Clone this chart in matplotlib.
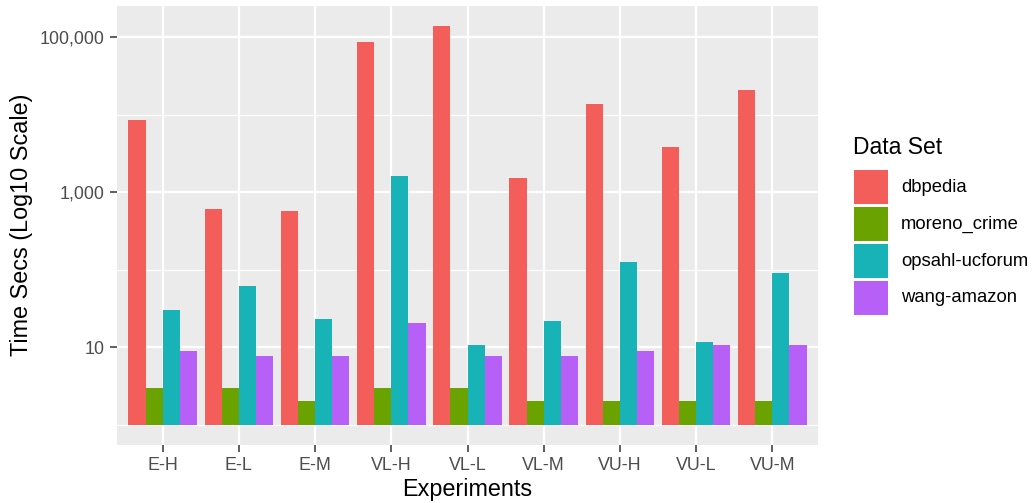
import numpy as np
import matplotlib
matplotlib.use("Agg")
import matplotlib.pyplot as plt
from matplotlib.patches import Rectangle
from matplotlib.ticker import FixedLocator, NullFormatter

plt.rcParams['font.family'] = ['Liberation Sans', 'DejaVu Sans']

# values (seconds)
experiments = ["E-H", "E-L", "E-M", "VL-H", "VL-L", "VL-M", "VU-H", "VU-L", "VU-M"]
datasets = ["dbpedia", "moreno_crime", "opsahl-ucforum", "wang-amazon"]
dbpedia = [8500, 605, 575, 86500, 139000, 1535, 13600, 3790, 20900]
moreno_crime = [3, 3, 2, 3, 3, 2, 2, 2, 2]
opsahl_ucforum = [30, 61.5, 22.8, 1615, 10.6, 21.7, 125, 11.7, 90]
wang_amazon = [8.9, 7.65, 7.65, 20.6, 7.65, 7.65, 8.9, 10.6, 10.6]
colors = ["#F35E5A", "#6AA300", "#18B3B7", "#B760F8"]

series = [dbpedia, moreno_crime, opsahl_ucforum, wang_amazon]

W, H = 1032, 503
fig = plt.figure(figsize=(W / 100, H / 100), dpi=100)
ax = fig.add_axes([117 / W, 1 - 444.5 / H, (818 - 117) / W, (444.5 - 6) / H])
ax.set_facecolor("#EBEBEB")

x = np.arange(1, len(experiments) + 1)
bw = 0.9 / len(series)
for i, (vals, col) in enumerate(zip(series, colors)):
    off = (i - (len(series) - 1) / 2) * bw
    ax.bar(x + off, np.array(vals) - 1, bottom=1, width=bw, color=col,
           linewidth=0, zorder=3)

ax.set_yscale("log")
max_log = np.log10(max(max(s) for s in series))
ax.set_ylim(10 ** (-0.05 * max_log), 10 ** (1.05 * max_log))
ax.set_xlim(0.4, len(experiments) + 0.6)

ax.yaxis.set_major_locator(FixedLocator([10, 1000, 100000]))
ax.yaxis.set_minor_locator(FixedLocator([1, 100, 10000]))
ax.yaxis.set_minor_formatter(NullFormatter())
ax.set_yticklabels(["10", "1,000", "100,000"])
ax.set_xticks(x)
ax.set_xticklabels(experiments)

ax.grid(which="major", color="white", linewidth=1.6, zorder=0)
ax.grid(which="minor", axis="y", color="white", linewidth=0.8, zorder=0)
ax.set_axisbelow(True)
for s in ax.spines.values():
    s.set_visible(False)
ax.tick_params(which="major", length=5, width=1.1, color="#333333",
               labelsize=12.9, labelcolor="#4D4D4D", pad=4)
ax.tick_params(which="minor", length=0)

ax.set_xlabel("Experiments", fontsize=16.8, color="black", labelpad=3)
ax.set_ylabel("Time Secs (Log10 Scale)", fontsize=16.8, color="black", labelpad=4.5)

# legend drawn by hand to match ggplot key layout
fig.text(853 / W, 1 - 148 / H, "Data Set", fontsize=16.5, va="center", ha="left")
key_top = 170
for i, (name, col) in enumerate(zip(datasets, colors)):
    top = key_top + i * 37
    fig.add_artist(Rectangle((854 / W, 1 - (top + 34) / H), 34 / W, 34 / H,
                             transform=fig.transFigure, facecolor=col,
                             edgecolor="none"))
    fig.text(901 / W, 1 - (top + 17) / H, name, fontsize=13.3, va="center",
             ha="left")

fig.savefig("out.png", dpi=100)
